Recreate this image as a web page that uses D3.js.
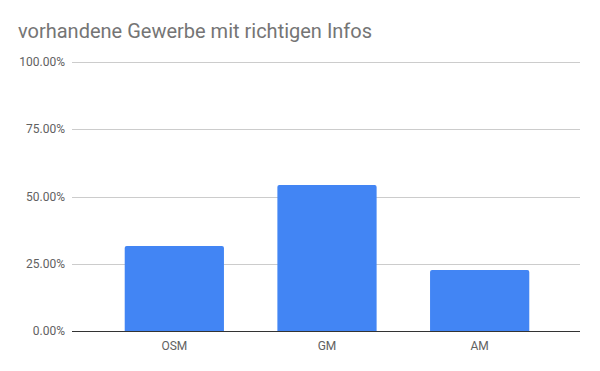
<!DOCTYPE html>
<html>
<head>
<meta charset="utf-8">
<script src="https://cdn.jsdelivr.net/npm/d3@7"></script>
<style>
  body { margin: 0; background: #fff; }
  svg { display: block; font-family: Roboto, sans-serif; }
</style>
</head>
<body>
<svg id="chart"></svg>
<script>
const categories = ["OSM", "GM", "AM"];
const values = [0.316, 0.543, 0.227];
const yTicks = [0, 0.25, 0.5, 0.75, 1];

const width = 600, height = 371;
const plotLeft = 72, plotRight = 580;
const plotTop = 62, plotBottom = 331;

const svg = d3.select("#chart")
  .attr("width", width)
  .attr("height", height);

svg.append("text")
  .attr("x", 18)
  .attr("y", 38)
  .attr("fill", "#757575")
  .attr("font-size", 20)
  .text("vorhandene Gewerbe mit richtigen Infos");

const y = d3.scaleLinear()
  .domain([0, 1])
  .range([plotBottom, plotTop]);

const x = d3.scaleBand()
  .domain(categories)
  .range([98, 556])
  .paddingInner(0.35)
  .paddingOuter(0.175);

// gridlines
svg.append("g")
  .selectAll("line")
  .data(yTicks.filter(d => d > 0))
  .enter().append("line")
    .attr("x1", plotLeft)
    .attr("x2", plotRight)
    .attr("y1", d => Math.round(y(d)) + 0.5)
    .attr("y2", d => Math.round(y(d)) + 0.5)
    .attr("stroke", "#cccccc");

// y labels
svg.append("g")
  .selectAll("text")
  .data(yTicks)
  .enter().append("text")
    .attr("x", 65)
    .attr("y", d => y(d) + 4)
    .attr("text-anchor", "end")
    .attr("font-size", 12)
    .attr("fill", "#616161")
    .text(d => d3.format(".2%")(d));

// bars with rounded top corners
const r = 2;
svg.append("g")
  .selectAll("path")
  .data(values)
  .enter().append("path")
    .attr("fill", "#4285f4")
    .attr("d", (d, i) => {
      const x0 = x(categories[i]);
      const x1 = x0 + x.bandwidth();
      const y0 = y(d);
      const yb = y(0);
      return `M${x0},${yb}V${y0 + r}Q${x0},${y0} ${x0 + r},${y0}H${x1 - r}Q${x1},${y0} ${x1},${y0 + r}V${yb}Z`;
    });

// baseline
svg.append("line")
  .attr("x1", plotLeft)
  .attr("x2", plotRight)
  .attr("y1", plotBottom + 0.5)
  .attr("y2", plotBottom + 0.5)
  .attr("stroke", "#333333");

// x labels
svg.append("g")
  .selectAll("text")
  .data(categories)
  .enter().append("text")
    .attr("x", d => x(d) + x.bandwidth() / 2)
    .attr("y", 350)
    .attr("text-anchor", "middle")
    .attr("font-size", 12)
    .attr("fill", "#616161")
    .text(d => d);
</script>
</body>
</html>
